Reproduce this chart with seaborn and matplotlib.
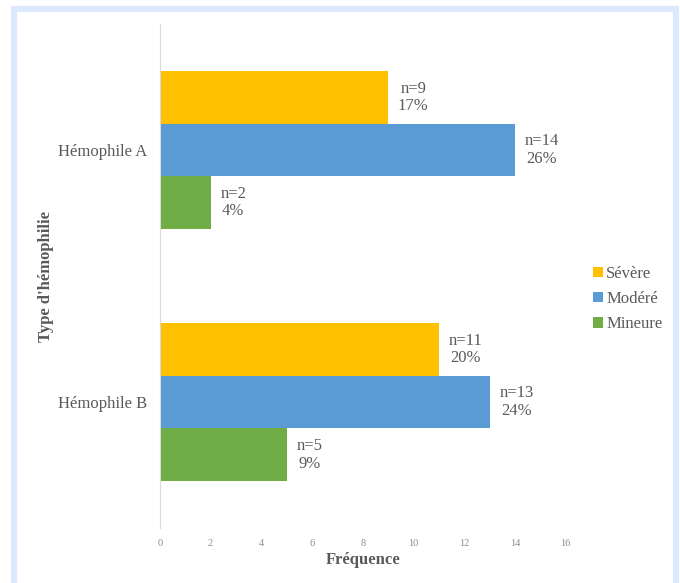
import pandas as pd
import matplotlib.pyplot as plt
import seaborn as sns
from matplotlib.patches import Rectangle


# Data
types = ["Hémophile A", "Hémophile B"]
severities = ["Sévère", "Modéré", "Mineure"]
counts_a = [9, 14, 2]
counts_b = [11, 13, 5]
pct_a = ["17%", "26%", "4%"]
pct_b = ["20%", "24%", "9%"]
colors = ["#FFC000", "#5B9BD5", "#70AD47"]

df = pd.DataFrame({
    "Type": [types[0]] * 3 + [types[1]] * 3,
    "Sévérité": severities * 2,
    "n": counts_a + counts_b,
    "pct": pct_a + pct_b,
})

sns.set_style("white")
plt.rcParams["font.family"] = ["Liberation Serif", "DejaVu Serif"]

fig = plt.figure(figsize=(6.8, 5.83), dpi=100)
ax = fig.add_axes([0.235, 0.094, 0.597, 0.865])

sns.barplot(
    data=df,
    x="n",
    y="Type",
    hue="Sévérité",
    hue_order=severities,
    order=types,
    palette=colors,
    orient="h",
    width=0.625,
    saturation=1,
    linewidth=0,
    ax=ax,
)

# value labels
for container, sev in zip(ax.containers, severities):
    sub = df[df["Sévérité"] == sev].set_index("Type").loc[types]
    for bar, (n, p) in zip(container, zip(sub["n"], sub["pct"])):
        ax.text(
            bar.get_width() + 0.38,
            bar.get_y() + bar.get_height() / 2,
            f"n={n}\n{p}",
            ha="left",
            va="center",
            multialignment="center",
            fontsize=12,
            color="#595959",
            linespacing=1.15,
        )

ax.set_xlim(0, 16)
ax.set_xticks(range(0, 17, 2))
ax.tick_params(axis="x", labelsize=7.5, colors="#8c8c8c", length=0, pad=8)
ax.tick_params(axis="y", labelsize=12, colors="#595959", length=0, pad=9)

ax.set_xlabel("Fréquence", fontsize=12, fontweight="bold", color="#595959", labelpad=3)
ax.set_ylabel("Type d'hémophilie", fontsize=12, fontweight="bold", color="#595959", labelpad=3)

for s in ["top", "right", "bottom"]:
    ax.spines[s].set_visible(False)
ax.spines["left"].set_color("#d9d9d9")
ax.spines["left"].set_linewidth(0.8)

handles, labels = ax.get_legend_handles_labels()
ax.legend_.remove()
fig.legend(
    handles,
    labels,
    loc="center left",
    bbox_to_anchor=(0.85, 0.487),
    frameon=False,
    fontsize=12,
    handlelength=0.6,
    handleheight=0.6,
    handletextpad=0.2,
    labelspacing=0.55,
    labelcolor="#595959",
)

# light blue frame around the figure
fig.patches.append(Rectangle(
    (14 / 680, -0.05), 662 / 680, 1.05 - 9 / 583,
    transform=fig.transFigure,
    fill=False,
    edgecolor="#dbe8fd",
    linewidth=4.5,
))

fig.savefig("out.png", dpi=100)
